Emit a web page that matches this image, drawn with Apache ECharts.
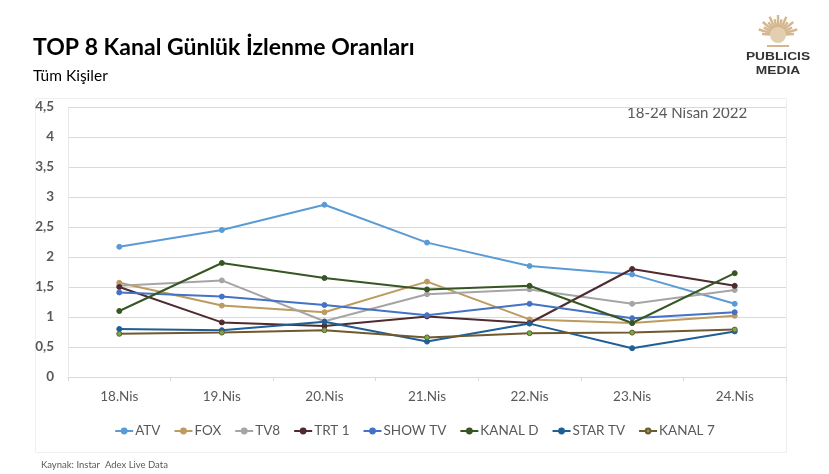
<!DOCTYPE html>
<html><head><meta charset="utf-8">
<style>html,body{margin:0;padding:0;background:#fff}#c{width:829px;height:474px}</style>
<script src="https://cdn.jsdelivr.net/npm/echarts@6/dist/echarts.min.js"></script>
</head><body><div id="c"></div>
<script>
const categories=['18.Nis','19.Nis','20.Nis','21.Nis','22.Nis','23.Nis','24.Nis'];
const ATV=[2.17,2.45,2.87,2.24,1.85,1.71,1.22];
const FOX=[1.57,1.19,1.08,1.59,0.96,0.90,1.02];
const TV8=[1.52,1.61,0.93,1.38,1.46,1.22,1.45];
const TRT1=[1.50,0.91,0.85,1.01,0.90,1.80,1.52];
const SHOW=[1.41,1.34,1.20,1.03,1.22,0.98,1.08];
const KANALD=[1.10,1.90,1.65,1.46,1.52,0.90,1.73];
const STAR=[0.80,0.78,0.92,0.59,0.89,0.48,0.76];
const KANAL7=[0.72,0.74,0.78,0.66,0.73,0.74,0.79];
const seriesDefs=[['ATV',ATV,'#5b9bd5','#5b9bd5'],['FOX',FOX,'#bd9a5f','#bd9a5f'],['TV8',TV8,'#a5a5a5','#a5a5a5'],['TRT 1',TRT1,'#4f2a2e','#4f2a2e'],['SHOW TV',SHOW,'#4472c4','#4472c4'],['KANAL D',KANALD,'#375623','#375623'],['STAR TV',STAR,'#1f5e96','#1f5e96'],['KANAL 7',KANAL7,'#70582f','#70ad47']];
const font='Lato,"Open Sans",sans-serif';
const chart=echarts.init(document.getElementById('c'),null,{renderer:'canvas'});
const rays=[];
for(let i=0;i<15;i++){const a=Math.PI*(1.02+i*0.0686);const r=i%2?20:16;
 rays.push({type:'line',shape:{x1:778+Math.cos(a)*7,y1:35+Math.sin(a)*7,x2:778+Math.cos(a)*r,y2:35+Math.sin(a)*r},style:{stroke:'#d4b78f',lineWidth:2.4}});}
chart.setOption({
 animation:false,backgroundColor:'#fff',
 grid:{left:68,right:43,top:107,height:270,containLabel:false},
 xAxis:{type:'category',data:categories,boundaryGap:true,
  axisLine:{lineStyle:{color:'#d9d9d9',width:1}},axisTick:{show:true,length:4,lineStyle:{color:'#d9d9d9'}},
  axisLabel:{color:'#595959',fontFamily:font,fontSize:13.5,margin:13}},
 yAxis:{type:'value',min:0,max:4.5,interval:0.5,
  axisLine:{show:true,lineStyle:{color:'#e8e8e8'}},axisTick:{show:false},
  splitLine:{lineStyle:{color:'#d9d9d9',width:1}},
  axisLabel:{color:'#595959',fontFamily:font,fontSize:13.5,fontWeight:700,margin:14,formatter:v=>String(v).replace('.',',')}},
 legend:{bottom:31,left:'center',itemWidth:18,itemHeight:6,itemGap:13,textStyle:{color:'#595959',fontFamily:font,fontSize:13.5,padding:[0,0,0,-3]},
  data:seriesDefs.map(d=>d[0])},
 series:seriesDefs.map(d=>({name:d[0],type:'line',data:d[1],symbol:'circle',symbolSize:5,
  lineStyle:{color:d[2],width:2},itemStyle:{color:d[3],borderColor:d[2],borderWidth:1}})),
 graphic:[
  {type:'rect',z:-1,shape:{x:35.5,y:98.5,width:751,height:354},style:{fill:'#fff',stroke:'#efefef',lineWidth:1}},
  {type:'text',x:33,y:36,style:{text:'TOP 8 Kanal Günlük İzlenme Oranları',font:'bold 23px Lato,sans-serif',fill:'#000'}},
  {type:'text',x:33,y:68,style:{text:'Tüm Kişiler',font:'15.5px Lato,sans-serif',fill:'#000'}},
  {type:'text',x:627,y:106,style:{text:'18-24 Nisan 2022',font:'15px Lato,sans-serif',fill:'#595959'}},
  {type:'text',x:41,y:460,style:{text:'Kaynak: Instar  Adex Live Data',font:'9.5px Lato,sans-serif',fill:'#595959'}},
  {type:'text',x:778,y:51,scaleX:1.25,style:{text:'PUBLICIS',font:'bold 11px "Liberation Sans",sans-serif',fill:'#333',align:'center'}},
  {type:'text',x:778,y:65,scaleX:1.25,style:{text:'MEDIA',font:'bold 11px "Liberation Sans",sans-serif',fill:'#333',align:'center'}},
  ...rays,
  {type:'rect',shape:{x:767,y:45,width:22,height:2},style:{fill:'#d4b78f'}},
  {type:'circle',shape:{cx:778,cy:35,r:8},style:{fill:'#e3cfb0'}}
 ]
});
</script></body></html>
